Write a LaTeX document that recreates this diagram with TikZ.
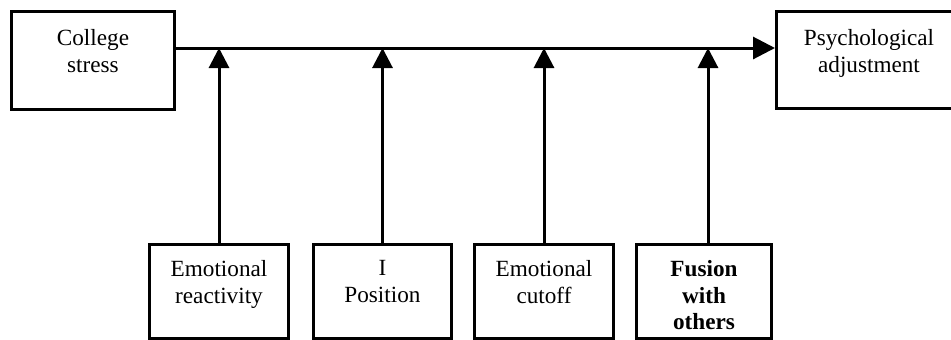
\documentclass[tikz,border=0pt]{standalone}
\usepackage{fontspec}
\setmainfont{Liberation Serif}
\usetikzlibrary{arrows.meta}
\begin{document}
\begin{tikzpicture}[x=0.5pt,y=-0.5pt,
  box/.style={draw, line width=1.5pt, inner sep=0pt, anchor=north west},
  txt/.style={anchor=north, inner sep=0pt, align=center, font=\fontsize{11.6}{13.5}\selectfont},
  boldtxt/.style={anchor=north, inner sep=0pt, align=center, font=\fontsize{11.6}{13.3}\selectfont\bfseries},
  conn/.style={line width=1.5pt},
  mainarrow/.style={conn, -{Triangle[length=11pt,width=11pt]}},
  uparrow/.style={conn, -{Triangle[length=10pt,width=10pt]}}]
\useasboundingbox (0,0) rectangle (951,339);
\clip (0,0) rectangle (951,339);
\fill[white] (0,0) rectangle (951,339);
% top boxes
\node[box, minimum width=81.5pt, minimum height=49pt] (cs) at (10,10) {};
\node[box, minimum width=92.5pt, minimum height=48.5pt] (pa) at (775,10) {};
\node[txt] (cst) at ([yshift=-9.5pt]cs.north) {College\\stress};
\node[txt] (pat) at ([yshift=-9.5pt]pa.north) {Psychological\\adjustment};
% bottom boxes
\node[box, minimum width=69.5pt, minimum height=47pt] (er) at (148,243) {};
\node[box, minimum width=69pt, minimum height=47pt] (ip) at (312,243) {};
\node[box, minimum width=69.5pt, minimum height=47pt] (ec) at (473,243) {};
\node[box, minimum width=67.5pt, minimum height=47pt] (fu) at (635,243) {};
\node[txt] (ert) at ([yshift=-8.5pt]er.north) {Emotional\\reactivity};
\node[txt] (ipt) at ([yshift=-8.5pt]ip.north) {I\\Position};
\node[txt] (ect) at ([yshift=-8.5pt]ec.north) {Emotional\\cutoff};
\node[boldtxt] (fut) at ([yshift=-8.5pt]fu.north) {Fusion\\with\\others};
% connectors
\coordinate (m) at (0,48);
\draw[mainarrow] (cs.east |- m) -- (pa.west |- m);
\draw[uparrow] (er.north) -- (er.north |- m);
\draw[uparrow] (ip.north) -- (ip.north |- m);
\draw[uparrow] (ec.north) -- (ec.north |- m);
\draw[uparrow] ([xshift=2pt]fu.north) -- ([xshift=2pt]fu.north |- m);
\end{tikzpicture}
\end{document}
